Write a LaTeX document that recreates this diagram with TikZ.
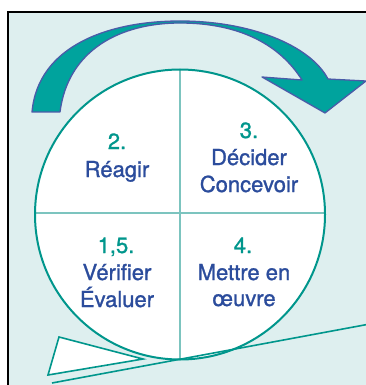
\documentclass[tikz,border=0pt]{standalone}
\usepackage{fontspec}
\setmainfont{TeX Gyre Heros}
\newfontfamily\lblfont{TeX Gyre Heros}[FakeBold=1.2]
\definecolor{bgteal}{HTML}{DEEFEF}
\definecolor{rimteal}{HTML}{00968C}
\definecolor{divteal}{HTML}{7CC4BF}
\definecolor{arrowfill}{HTML}{00A39D}
\definecolor{arrowedge}{HTML}{4A5BA8}
\definecolor{numteal}{HTML}{00968C}
\definecolor{wordblue}{HTML}{2B4C9C}
\tikzset{
  num/.style={anchor=base, inner sep=0pt, text=numteal, font=\lblfont\fontsize{22}{26}\selectfont},
  word/.style={anchor=base, inner sep=0pt, text=wordblue, font=\lblfont\fontsize{22}{26}\selectfont},
  rim/.style={draw=rimteal, line width=2pt},
  divider/.style={draw=divteal, line width=1.2pt},
}
\begin{document}
\begin{tikzpicture}[x=1pt,y=-1pt]
\useasboundingbox (0,0) rectangle (365,385);
% frame
\fill[bgteal] (8,12) rectangle (366,386);
\draw[black, line width=1.4pt] (8,386) -- (8,12) -- (366,12);
% wheel
\coordinate (c) at (180,214.5);
\fill[white] (c) circle[radius=145];
\draw[divider] (180,69.5) -- (180,359.5);
\draw[divider] (35,213) -- (325,213);
\draw[rim] (c) circle[radius=145];
% ground line and wedge
\coordinate (g1) at (52,383);
\coordinate (g2) at (367,324.5);
\draw[draw=rimteal, line width=1.6pt] (g1) -- (g2);
\filldraw[fill=white, draw=rimteal, line width=1.6pt, line join=miter]
  (59,337) -- (48,375) -- (143,359) -- cycle;
% rotation arrow
\filldraw[fill=arrowfill, draw=arrowedge, line width=1.3pt, line join=round]
  (32,112) .. controls (38,45) and (110,21) .. (180,21)
  .. controls (250,21) and (310,45) .. (328,79)
  -- (366,81) -- (325,113) -- (262,77) -- (302,80)
  .. controls (280,45) and (240,23) .. (180,23)
  .. controls (120,23) and (68,50) .. (60,112) -- cycle;
% labels
\node[num]  (n2)  at (117,149) {2.};
\node[word] (w2)  at (117,177) {Réagir};
\node[num]  (n3)  at (249,138) {3.};
\node[word] (w3a) at (249,165) {Décider};
\node[word] (w3b) at (249,192) {Concevoir};
\node[num]  (n1)  at (116,253) {1,5.};
\node[word] (w1a) at (117,280) {Vérifier};
\node[word] (w1b) at (117,307) {Évaluer};
\node[num]  (n4)  at (243,253) {4.};
\node[word] (w4a) at (244,280) {Mettre en};
\node[word] (w4b) at (244,306) {œuvre};
\end{tikzpicture}
\end{document}
